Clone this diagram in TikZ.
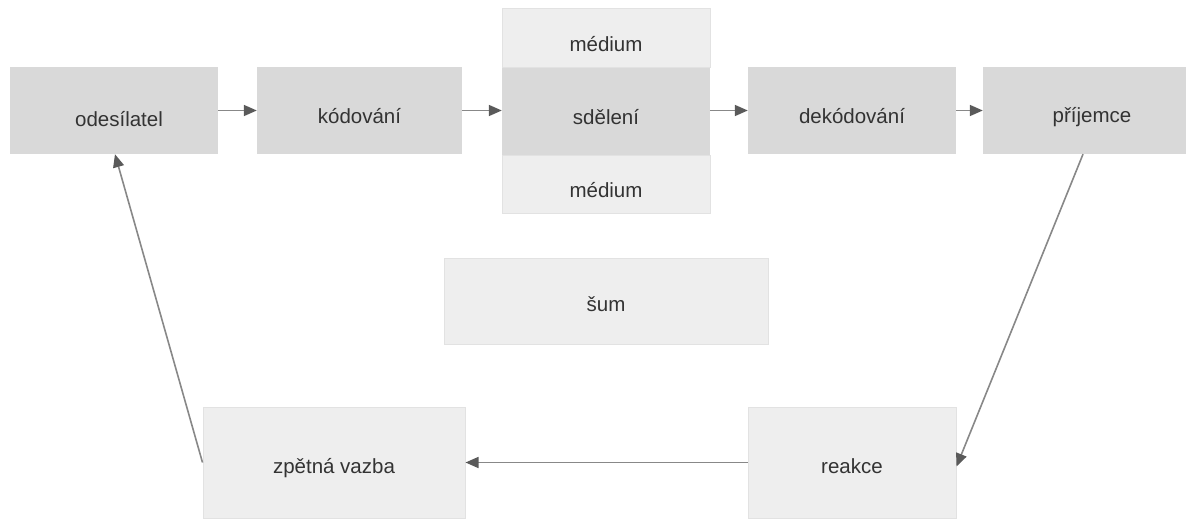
\documentclass[tikz,border=0pt]{standalone}
\usepackage{fontspec}
\setmainfont{Liberation Sans}
\usetikzlibrary{arrows.meta}
\definecolor{darkbox}{HTML}{D9D9D9}
\definecolor{lightbox}{HTML}{EEEEEE}
\definecolor{lightborder}{HTML}{E2E2E2}
\definecolor{txt}{HTML}{333333}
\definecolor{arrline}{HTML}{888888}
\definecolor{arrhead}{HTML}{5A5A5A}
\tikzset{
  box/.style={rectangle, inner sep=0pt, text=txt, font=\fontsize{20.5}{24}\selectfont,
    text depth=0pt, text height=25.5pt},
  tx/.style={text height=#1pt},
  dbox/.style={box, fill=darkbox},
  lbox/.style={box, fill=lightbox, draw=lightborder, line width=1pt},
  conn/.style={draw=arrline, line width=1.6pt,
    -{Triangle[length=13pt,width=11pt,fill=arrhead,color=arrhead]}}
}
\begin{document}
\begin{tikzpicture}[x=1pt,y=-1pt]
\useasboundingbox (0,0) rectangle (1186,519);
\clip (0,0) rectangle (1186,519);
% top row
\node[dbox, tx=32.5, minimum width=208pt, minimum height=87pt] (odes) at (114,110.5) {\hspace*{10pt}odesílatel};
\node[dbox, minimum width=205pt, minimum height=87pt] (kod) at (359.5,110.5) {kódování};
\node[lbox, tx=26.5, minimum width=208pt, minimum height=59pt] (med1) at (606,38.5) {médium};
\node[lbox, tx=26.5, minimum width=208pt, minimum height=58pt] (med2) at (606,184) {médium};
\node[dbox, minimum width=208pt, minimum height=87pt] (sdel) at (606,111.5) {sdělení};
\node[dbox, minimum width=208pt, minimum height=87pt] (dekod) at (852,110.5) {dekódování};
\node[dbox, tx=24, minimum width=218pt, minimum height=87pt] (prij) at (1092,110.5) {příjemce};
% middle
\node[lbox, tx=20.5, minimum width=324pt, minimum height=86pt] (sum) at (606,301) {šum};
% bottom row
\node[lbox, tx=22, minimum width=262pt, minimum height=111pt] (zpet) at (334,462.5) {zpětná vazba};
\node[lbox, tx=22, minimum width=208pt, minimum height=111pt] (reak) at (852,462.5) {reakce};
% connectors
\draw[conn] (odes.east) -- (kod.west);
\draw[conn] (kod.east) -- (sdel.west |- kod.east);
\draw[conn] (sdel.east |- dekod.west) -- (dekod.west);
\draw[conn] (dekod.east) -- (prij.west |- dekod.east);
\draw[conn] ([xshift=-9pt]prij.south) -- ([yshift=-4pt]reak.east);
\draw[conn] (reak.west) -- (zpet.east);
\draw[conn] (zpet.west) -- ([xshift=1pt]odes.south);
\end{tikzpicture}
\end{document}
